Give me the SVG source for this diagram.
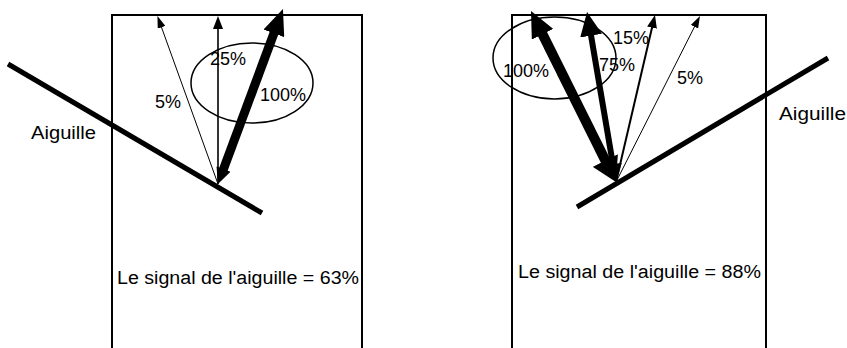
<svg xmlns="http://www.w3.org/2000/svg" width="847" height="348" viewBox="0 0 847 348">
<style>
.box{fill:none;stroke:#000;stroke-width:2}
.needle{stroke:#000;stroke-width:5;stroke-linecap:butt}
.ell{fill:none;stroke:#000;stroke-width:1.5}
.t{font-family:"Liberation Sans",Arial,Helvetica,sans-serif;font-size:18px;fill:#000}
.a{stroke:#000;fill:none;stroke-linecap:butt}
</style>
<defs>
<marker id="mThin" markerUnits="userSpaceOnUse" viewBox="0 -4 12 8" markerWidth="12" markerHeight="8" refX="3" refY="0" orient="auto"><path d="M0,-4 L12,0 L0,4 z"/></marker>
<marker id="mMed" markerUnits="userSpaceOnUse" viewBox="0 -5 13 10" markerWidth="13" markerHeight="10" refX="3" refY="0" orient="auto"><path d="M0,-5 L13,0 L0,5 z"/></marker>
<marker id="mBigL" markerUnits="userSpaceOnUse" viewBox="0 -11 26 22" markerWidth="26" markerHeight="22" refX="4" refY="0" orient="auto"><path d="M0,-11 L26,0 L0,11 z"/></marker>
<marker id="mBackL" markerUnits="userSpaceOnUse" viewBox="0 -7.5 16 15" markerWidth="16" markerHeight="15" refX="3" refY="0" orient="auto-start-reverse"><path d="M0,-7.5 L16,0 L0,7.5 z"/></marker>
<marker id="mBigR" markerUnits="userSpaceOnUse" viewBox="0 -12 26 24" markerWidth="26" markerHeight="24" refX="4" refY="0" orient="auto"><path d="M0,-12 L26,0 L0,12 z"/></marker>
<marker id="mBackR" markerUnits="userSpaceOnUse" viewBox="0 -14 24 28" markerWidth="24" markerHeight="28" refX="4" refY="0" orient="auto-start-reverse"><path d="M0,-14 L24,0 L0,14 z"/></marker>
<marker id="m75" markerUnits="userSpaceOnUse" viewBox="0 -11 24 22" markerWidth="24" markerHeight="22" refX="4" refY="0" orient="auto"><path d="M0,-11 L24,0 L0,11 z"/></marker>
<marker id="m75b" markerUnits="userSpaceOnUse" viewBox="0 -9 18 18" markerWidth="18" markerHeight="18" refX="4" refY="0" orient="auto-start-reverse"><path d="M0,-9 L18,0 L0,9 z"/></marker>
</defs>

<g id="left-panel">
  <path class="box" d="M112,348 V15 H362 V348"/>
  <ellipse class="ell" cx="252" cy="83" rx="61" ry="40"/>
  <line class="needle" x1="8" y1="64" x2="262" y2="213"/>
  <text class="t" x="31" y="139" textLength="65" lengthAdjust="spacingAndGlyphs">Aiguille</text>
  <text class="t" x="117" y="284" textLength="242" lengthAdjust="spacingAndGlyphs">Le signal de l'aiguille = 63%</text>
  <text class="t" x="210" y="65">25%</text>
  <text class="t" x="260" y="101">100%</text>
  <text class="t" x="155" y="108">5%</text>
</g>

<g id="right-panel">
  <path class="box" d="M512,348 V15 H766 V348"/>
  <ellipse class="ell" cx="554.5" cy="58" rx="61.5" ry="41"/>
  <line class="needle" x1="577" y1="207" x2="828" y2="58"/>
  <text class="t" x="779" y="120" textLength="67" lengthAdjust="spacingAndGlyphs">Aiguille</text>
  <text class="t" x="518" y="278" textLength="243" lengthAdjust="spacingAndGlyphs">Le signal de l'aiguille = 88%</text>
  <text class="t" x="613" y="44">15%</text>
  <text class="t" x="599" y="71">75%</text>
  <text class="t" x="503" y="77">100%</text>
  <text class="t" x="677" y="84">5%</text>
</g>

<g id="connectors">
  <line class="a" stroke-width="1" x1="218" y1="184" x2="160.5" y2="24.5" marker-end="url(#mThin)"/>
  <line class="a" stroke-width="1.6" x1="218" y1="184" x2="218" y2="26" marker-end="url(#mMed)"/>
  <line class="a" stroke-width="9" x1="222.5" y1="171.8" x2="275.3" y2="29.6" marker-start="url(#mBackL)" marker-end="url(#mBigL)"/>

  <line class="a" stroke-width="1" x1="616" y1="182" x2="695.9" y2="24" marker-end="url(#mThin)"/>
  <line class="a" stroke-width="2" x1="616" y1="182" x2="652.7" y2="24.7" marker-end="url(#mMed)"/>
  <line class="a" stroke-width="6" x1="613.6" y1="168.2" x2="590.4" y2="31.7" marker-start="url(#m75b)" marker-end="url(#m75)"/>
  <line class="a" stroke-width="10" x1="607.1" y1="164.1" x2="540.8" y2="30.7" marker-start="url(#mBackR)" marker-end="url(#mBigR)"/>
</g>
</svg>
